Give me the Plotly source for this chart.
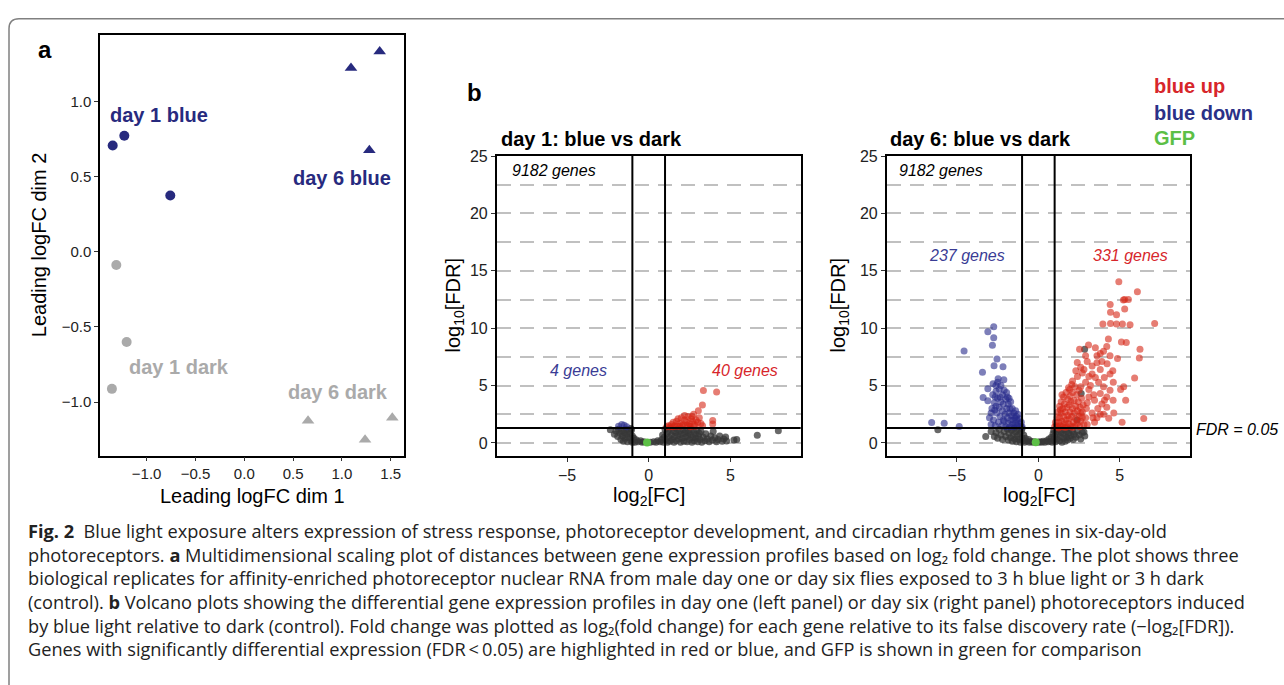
import plotly.graph_objects as go

W, H = 1284, 685

# ---------------- Panel a: MDS data ----------------
mds_d1_blue_x = [-1.348, -1.229, -0.758]
mds_d1_blue_y = [0.707, 0.772, 0.375]
mds_d1_dark_x = [-1.311, -1.205, -1.356]
mds_d1_dark_y = [-0.088, -0.600, -0.912]
mds_d6_blue_x = [1.387, 1.093, 1.281]
mds_d6_blue_y = [1.333, 1.224, 0.676]
mds_d6_dark_x = [0.653, 1.237, 1.516]
mds_d6_dark_y = [-1.125, -1.250, -1.105]
mds_ticks = [-1.0, -0.5, 0.0, 0.5, 1.0, 1.5]
mds_yticks = [-1.0, -0.5, 0.0, 0.5, 1.0]

# ---------------- Panel b: day 1 volcano ----------------
d1_gray_x = [-2.35, -2.1, -2.0, -1.9, -1.85, -1.75, -1.7, -1.65, -1.6, -1.55, -1.5, -1.45, -1.4, -1.35, -1.3,
             -1.25, -1.2, -1.15, -1.1, -1.05, -1.0, -1.0, -1.1,
             -0.9, -0.85, -0.75, -0.65, -0.5, -0.4, -0.3, 0.1, 0.3, 0.45, 0.55, 0.7, 0.8, 0.9, 0.95, 0.85,
             1.0, 1.05, 1.1, 1.15, 1.2, 1.25, 1.3, 1.35, 1.4, 1.45, 1.5, 1.55, 1.6, 1.65, 1.7, 1.75, 1.8,
             1.85, 1.9, 1.95, 2.0, 2.05, 2.1, 2.15, 2.2, 2.25, 2.3, 2.35, 2.4, 2.45, 2.5, 2.55, 2.6, 2.65,
             2.7, 2.75, 2.8, 2.85, 2.9, 2.95, 3.0, 3.05, 3.1, 3.15, 3.2, 3.25,
             3.35, 3.45, 3.5, 3.6, 3.7, 3.8, 3.9, 3.95, 4.05, 4.15, 4.25, 4.35, 4.5, 4.6, 4.71, 4.77,
             5.22, 5.39, 6.65, 7.94]
d1_gray_y = [1.15, 0.75, 1.05, 0.55, 1.2, 0.85, 0.3, 1.05, 0.6, 0.15, 0.9, 0.4, 1.2, 0.7, 0.1,
             1.0, 0.45, 0.8, 0.2, 1.15, 0.6, 0.05, 1.25,
             0.4, 0.05, 0.25, 0.1, 0.2, 0.05, 0.1, 0.05, 0.1, 0.05, 0.2, 0.1, 0.3, 0.05, 0.5, 0.7,
             1.2, 0.3, 0.8, 0.05, 1.0, 0.5, 0.15, 1.25, 0.7, 0.3, 1.05, 0.05, 0.55, 0.9, 0.2, 1.2, 0.65,
             0.35, 1.0, 0.05, 0.75, 0.4, 1.15, 0.15, 0.85, 0.5, 1.05, 0.1, 0.6, 0.9, 0.3, 1.2, 0.7, 0.05,
             0.45, 1.0, 0.2, 0.75, 0.4, 1.1, 0.1, 0.6, 0.85, 0.3, 1.0, 0.05,
             0.5, 0.2, 0.8, 0.35, 0.1, 0.6, 0.25, 1.0, 0.45, 0.1, 0.3, 0.6, 0.15, 0.35, 0.52, 0.17,
             0.25, 0.29, 0.66, 1.06]
d1_up_x = [3.35, 4.16, 3.29, 3.04, 2.75, 3.92, 3.92, 1.1, 1.2, 1.3, 1.4, 1.5, 1.6, 1.7, 1.8, 1.9, 1.9, 2.0,
           2.1, 2.2, 2.2, 2.3, 2.4, 2.45, 2.5, 2.6, 2.65, 2.7, 2.8, 2.9, 3.0, 3.1, 3.2, 3.3, 1.5, 1.75,
           2.05, 2.35, 2.55, 2.85]
d1_up_y = [4.58, 4.44, 3.30, 2.81, 2.5, 1.95, 1.66, 1.4, 1.5, 1.4, 1.6, 1.8, 1.5, 1.9, 2.1, 1.7, 1.45, 2.2,
           1.6, 2.0, 2.4, 1.8, 2.3, 1.5, 1.7, 2.1, 2.3, 1.9, 1.6, 2.0, 1.8, 2.2, 1.7, 1.5, 1.4, 1.45,
           1.5, 1.55, 1.4, 1.45]
d1_down_x = [-1.85, -1.65, -1.5, -1.35]
d1_down_y = [1.45, 1.6, 1.55, 1.42]
d1_gfp_x = [-0.1]
d1_gfp_y = [0.03]

# ---------------- Panel b: day 6 volcano ----------------
d6_gray_x = [-6.17, -3.23, -2.7, -2.9, -2.6, -2.5, -2.4, -2.3, -2.2, -2.1, -2.0, -1.9, -1.85, -1.8, -1.7,
             -1.65, -1.6, -1.55, -1.5, -1.45, -1.4, -1.35, -1.3, -1.25, -1.2, -1.15, -1.1, -1.05, -1.0, -1.0,
             -0.95, -0.9, -0.85, -0.8, -0.7, -0.6, -0.55, -0.45, -0.35, -0.25, 0.0, 0.1, 0.2, 0.3, 0.4,
             0.5, 0.6, 0.65, 0.75, 0.8, 0.85, 0.9, 0.95, 0.95,
             1.0, 1.05, 1.1, 1.15, 1.2, 1.25, 1.3, 1.35, 1.4, 1.45, 1.5, 1.55, 1.6, 1.65, 1.7, 1.75, 1.8,
             1.85, 1.9, 1.95, 2.0, 2.1, 2.15, 2.2, 2.3, 2.4, 2.5, 2.6, 2.7, 2.8, 2.85,
             2.63, 2.84, 2.38]
d6_gray_y = [1.14, 0.57, 0.55, 1.0, 0.9, 0.4, 1.2, 0.7, 0.3, 1.0, 0.55, 1.2, 0.25, 0.85, 0.45,
             1.1, 0.15, 0.7, 1.25, 0.35, 0.95, 0.1, 0.6, 1.15, 0.3, 0.8, 0.05, 1.0, 0.45, 1.25,
             0.2, 0.7, 0.05, 0.4, 0.15, 0.3, 0.05, 0.15, 0.05, 0.1, 0.05, 0.1, 0.05, 0.15, 0.05,
             0.2, 0.1, 0.35, 0.15, 0.5, 0.05, 0.8, 0.3, 1.1,
             0.6, 0.1, 1.0, 0.35, 0.75, 1.2, 0.2, 0.55, 0.9, 0.05, 1.15, 0.4, 0.75, 0.15, 1.0, 0.5, 0.25,
             0.85, 1.2, 0.4, 0.65, 1.0, 0.3, 0.75, 0.5, 1.05, 0.7, 0.35, 0.9, 0.95, 0.6,
             4.3, 8.17, 2.0]
d6_down_x = [-2.74, -3.10, -2.74, -2.82, -4.56, -2.54, -2.72, -2.17, -3.43, -2.47, -2.12, -2.78, -3.10, -2.6,
             -3.39, -3.1, -2.68, -6.55, -5.78, -4.86,
             -3.0, -2.9, -2.85, -2.8, -2.75, -2.7, -2.65, -2.6, -2.55, -2.5, -2.5, -2.45, -2.4, -2.4, -2.35,
             -2.3, -2.3, -2.25, -2.2, -2.2, -2.15, -2.1, -2.1, -2.05, -2.0, -2.0, -1.95, -1.9, -1.9, -1.85,
             -1.85, -1.8, -1.75, -1.75, -1.7, -1.7, -1.65, -1.6, -1.6, -1.55, -1.5, -1.5, -1.45, -1.4, -1.4,
             -1.35, -1.3, -1.3, -1.25, -1.2, -1.15, -1.1, -1.05, -1.0, -2.65, -2.9, -2.35, -1.95, -2.6,
             -2.15, -1.8]
d6_down_y = [10.12, 9.69, 9.17, 8.51, 8.02, 7.31, 6.73, 6.65, 6.16, 5.59, 5.5, 5.16, 4.73, 5.0,
             3.96, 3.67, 2.87, 1.78, 1.72, 1.43,
             2.2, 1.6, 3.0, 4.2, 2.0, 3.5, 1.5, 4.5, 2.6, 3.9, 5.3, 1.8, 3.1, 4.7, 2.3,
             5.0, 3.6, 1.5, 2.8, 4.2, 3.4, 1.9, 4.6, 2.5, 3.8, 1.4, 3.0, 2.2, 4.0, 1.7,
             3.4, 2.6, 1.4, 3.0, 2.0, 3.6, 2.4, 1.6, 3.0, 2.0, 2.6, 1.4, 2.2, 1.7, 2.8,
             2.3, 1.5, 2.0, 2.5, 1.7, 2.1, 1.45, 1.8, 1.4, 4.0, 2.6, 4.0, 4.4, 3.2,
             2.0, 3.9]
d6_up_x = [4.94, 6.08, 5.22, 5.3, 5.53, 4.41, 5.30, 4.43, 4.80, 3.96, 4.43, 4.8, 5.16, 5.63, 7.14, 4.30,
           5.10, 5.4, 3.08, 2.53, 6.24, 4.2, 3.80, 6.2, 4.86, 2.39, 3.0, 3.6, 3.9, 4.22, 2.6, 3.3, 4.57,
           2.7, 3.1, 3.5, 4.05, 5.91, 2.1, 2.9, 3.7, 1.92, 3.1, 5.24, 5.05, 4.4, 3.8, 4.59, 5.36, 4.06,
           3.45, 3.65, 2.95, 4.32, 5.14, 6.47, 3.0, 3.8, 3.35, 4.63, 3.6, 3.45, 4.0,
           3.3, 3.8, 4.4, 3.2, 4.0, 2.6, 3.4, 4.2, 3.0, 3.9, 2.7, 4.2, 3.3, 2.9, 3.1, 2.4, 2.8, 4.6,
           2.3, 3.6, 4.0, 3.5, 2.9, 4.4,
           1.0, 1.05, 1.1, 1.15, 1.2, 1.2, 1.25, 1.3, 1.3, 1.35, 1.4, 1.4, 1.45, 1.5, 1.5, 1.55, 1.55,
           1.6, 1.6, 1.65, 1.7, 1.7, 1.75, 1.75, 1.8, 1.8, 1.85, 1.85, 1.9, 1.9, 1.95, 1.95, 2.0, 2.0,
           2.05, 2.05, 2.1, 2.1, 2.15, 2.2, 2.2, 2.25, 2.25, 2.3, 2.3, 2.35, 2.4, 2.4, 2.45, 2.5, 2.5,
           2.55, 2.6, 2.6, 2.65, 2.7, 2.75, 2.8, 1.25, 1.65, 2.1, 2.55, 1.35, 1.45]
d6_up_y = [14.04, 13.18, 12.47, 12.5, 12.5, 12.07, 11.67, 11.4, 11.18, 10.37, 10.4, 10.37, 10.37, 10.3, 10.4,
           9.06, 8.80, 8.75, 8.54, 8.17, 8.17, 8.4, 7.80, 7.4, 7.36, 7.02, 7.1, 7.0, 7.1, 6.9, 6.6, 6.7,
           6.30, 6.1, 5.8, 5.7, 5.7, 5.67, 5.4, 5.3, 5.3, 4.65, 4.65, 4.9, 4.65, 4.6, 4.3, 3.73, 3.72,
           3.72, 3.72, 3.0, 3.0, 2.15, 1.81, 2.12, 1.6, 2.5, 2.2, 2.6, 2.2, 1.8, 2.5,
           6.0, 6.4, 6.0, 5.0, 4.9, 4.9, 4.2, 4.0, 3.5, 3.4, 2.7, 3.1, 2.6, 2.2, 4.0, 5.8, 6.4, 5.3,
           6.3, 7.6, 8.0, 8.3, 7.6, 7.6,
           1.4, 1.8, 1.5, 2.2, 1.4, 2.7, 1.8, 3.2, 2.2, 1.5, 2.6, 3.6, 1.9, 3.0, 1.4, 2.3, 4.0,
           3.4, 1.7, 2.7, 4.4, 2.0, 3.1, 1.4, 3.8, 2.4, 4.8, 1.7, 3.3, 2.1, 4.1, 2.7, 1.5, 3.6,
           5.1, 2.3, 4.4, 3.0, 1.8, 3.7, 2.6, 4.9, 1.5, 3.2, 2.1, 4.2, 2.8, 1.7, 3.6, 2.3, 4.6,
           3.1, 1.9, 2.6, 3.9, 2.2, 3.3, 1.6, 1.3, 1.35, 1.35, 1.4, 2.9, 4.2]
d6_gfp_x = [-0.16]
d6_gfp_y = [0.06]

volc_xticks = [-5, 0, 5]
volc_yticks = [0, 5, 10, 15, 20, 25]
fc_cut = 1.0
fdr_line = 1.30103

caption_lines = [
    "<b>Fig. 2</b>  Blue light exposure alters expression of stress response, photoreceptor development, and circadian rhythm genes in six-day-old",
    "photoreceptors. <b>a</b> Multidimensional scaling plot of distances between gene expression profiles based on log\u2082 fold change. The plot shows three",
    "biological replicates for affinity-enriched photoreceptor nuclear RNA from male day one or day six flies exposed to 3 h blue light or 3 h dark",
    "(control). <b>b</b> Volcano plots showing the differential gene expression profiles in day one (left panel) or day six (right panel) photoreceptors induced",
    "by blue light relative to dark (control). Fold change was plotted as log\u2082(fold change) for each gene relative to its false discovery rate (\u2212log\u2082[FDR]).",
    "Genes with significantly differential expression (FDR\u2009<\u20090.05) are highlighted in red or blue, and GFP is shown in green for comparison",
]

# ---------------- styles ----------------
NAVY = "#272a7e"
LGRAY = "#aaaaaa"
RED = "rgb(214,38,22)"
BLUE = "rgb(38,42,138)"
DGRAY = "rgb(55,55,55)"
GREEN = "#5cbf46"
FONT = "Liberation Sans"


def px(x):
    return x / W


def py(y):
    return 1 - y / H


def fmt(v):
    s = f"{v:.1f}"
    return s.replace("-", "\u2212")


fig = go.Figure()

# panel a
fig.add_trace(go.Scatter(x=mds_d1_blue_x, y=mds_d1_blue_y, mode="markers",
                         marker=dict(symbol="circle", size=10, color=NAVY), xaxis="x", yaxis="y"))
fig.add_trace(go.Scatter(x=mds_d1_dark_x, y=mds_d1_dark_y, mode="markers",
                         marker=dict(symbol="circle", size=10, color=LGRAY), xaxis="x", yaxis="y"))
fig.add_trace(go.Scatter(x=mds_d6_blue_x, y=mds_d6_blue_y, mode="markers",
                         marker=dict(symbol="triangle-up", size=11, color=NAVY), xaxis="x", yaxis="y"))
fig.add_trace(go.Scatter(x=mds_d6_dark_x, y=mds_d6_dark_y, mode="markers",
                         marker=dict(symbol="triangle-up", size=11, color=LGRAY), xaxis="x", yaxis="y"))


def volc(xs, ys, color, op, xa, ya, size=7):
    fig.add_trace(go.Scatter(x=xs, y=ys, mode="markers",
                             marker=dict(size=size, color=color, opacity=op, line=dict(width=0)),
                             xaxis=xa, yaxis=ya))


volc(d1_gray_x, d1_gray_y, DGRAY, 0.75, "x2", "y2")
volc(d1_down_x, d1_down_y, BLUE, 0.6, "x2", "y2")
volc(d1_up_x, d1_up_y, RED, 0.6, "x2", "y2")
volc(d1_gfp_x, d1_gfp_y, GREEN, 1.0, "x2", "y2", 8)

volc(d6_gray_x, d6_gray_y, DGRAY, 0.75, "x3", "y3")
volc(d6_down_x, d6_down_y, BLUE, 0.6, "x3", "y3")
volc(d6_up_x, d6_up_y, RED, 0.6, "x3", "y3")
volc(d6_gfp_x, d6_gfp_y, GREEN, 1.0, "x3", "y3", 8)

axis_common = dict(showline=True, mirror=True, linecolor="black", linewidth=1.5,
                   ticks="outside", ticklen=4, tickwidth=1, tickcolor="#333",
                   zeroline=False, showgrid=False,
                   tickfont=dict(family=FONT, size=15, color="#222"))

grid_dash = "14px,9px"
vtick = dict(family=FONT, size=16, color="#222")

fig.update_layout(
    width=W, height=H, margin=dict(l=0, r=0, t=0, b=0),
    paper_bgcolor="white", plot_bgcolor="white", showlegend=False,
    xaxis=dict(axis_common, domain=[px(100), px(404)], range=[-1.478, 1.636], anchor="y",
               tickvals=mds_ticks, ticktext=[fmt(v) for v in mds_ticks]),
    yaxis=dict(axis_common, domain=[py(453), py(27)], range=[-1.357, 1.445], anchor="x",
               tickvals=mds_yticks, ticktext=[fmt(v) for v in mds_yticks]),
    xaxis2=dict(axis_common, domain=[px(496.7), px(800.7)], range=[-9.31, 9.31], anchor="y2",
                tickvals=volc_xticks, ticktext=[str(v).replace("-", "\u2212") for v in volc_xticks],
                tickfont=vtick),
    yaxis2=dict(axis_common, domain=[py(453.3), py(149.3)], range=[-1.14, 25.05], anchor="x2",
                tickvals=volc_yticks, ticktext=[str(v) for v in volc_yticks], tickfont=vtick,
                showgrid=True, gridcolor="#c0c0c0", gridwidth=1.8, griddash=grid_dash,
                minor=dict(dtick=2.5, tick0=0, showgrid=True, gridcolor="#c0c0c0", gridwidth=1.8,
                           griddash=grid_dash, ticklen=0)),
    xaxis3=dict(axis_common, domain=[px(886.7), px(1190)], range=[-9.31, 9.31], anchor="y3",
                tickvals=volc_xticks, ticktext=[str(v).replace("-", "\u2212") for v in volc_xticks],
                tickfont=vtick),
    yaxis3=dict(axis_common, domain=[py(453.3), py(149.3)], range=[-1.14, 25.05], anchor="x3",
                tickvals=volc_yticks, ticktext=[str(v) for v in volc_yticks], tickfont=vtick,
                showgrid=True, gridcolor="#c0c0c0", gridwidth=1.8, griddash=grid_dash,
                minor=dict(dtick=2.5, tick0=0, showgrid=True, gridcolor="#c0c0c0", gridwidth=1.8,
                           griddash=grid_dash, ticklen=0)),
)

shapes = []
for xa, ya in (("x2", "y2"), ("x3", "y3")):
    for xv in (-fc_cut, fc_cut):
        shapes.append(dict(type="line", xref=xa, yref=ya + " domain", x0=xv, x1=xv, y0=0, y1=1,
                           line=dict(color="black", width=2), layer="above"))
    shapes.append(dict(type="line", xref=xa + " domain", yref=ya, x0=0, x1=1, y0=fdr_line, y1=fdr_line,
                       line=dict(color="black", width=2), layer="above"))

# outer rounded border
r = 10
bx, by = 9, 11
path = (f"M {px(bx)},{py(H + 20)} L {px(bx)},{py(by + r)} "
        f"Q {px(bx)},{py(by)} {px(bx + r)},{py(by)} L {px(W + 20)},{py(by)}")
shapes.append(dict(type="path", xref="paper", yref="paper", path=path,
                   line=dict(color="#808080", width=1.5)))
fig.update_layout(shapes=shapes)

ann = []


def add_text(text, x, y, size, color="black", bold=False, italic=False, xanchor="center",
             yanchor="middle", angle=0, family=FONT, align="center"):
    if bold:
        text = f"<b>{text}</b>"
    if italic:
        text = f"<i>{text}</i>"
    ann.append(dict(text=text, x=px(x), y=py(y), xref="paper", yref="paper", showarrow=False,
                    xanchor=xanchor, yanchor=yanchor, textangle=angle, align=align,
                    font=dict(family=family, size=size, color=color)))


# panel letters
add_text("a", 45, 42, 24, bold=True)
add_text("b", 474, 86, 24, bold=True)

# panel a texts
add_text("day 1 blue", 108, 108, 20, color=NAVY, bold=True, xanchor="left")
add_text("day 6 blue", 393, 172, 20, color=NAVY, bold=True, xanchor="right")
add_text("day 1 dark", 127, 363, 20, color=LGRAY, bold=True, xanchor="left")
add_text("day 6 dark", 390, 389, 20, color=LGRAY, bold=True, xanchor="right")
add_text("Leading logFC dim 1", 252, 494, 20)
add_text("Leading logFC dim 2", 39, 240, 20, angle=-90)

# volcano titles and axis titles
add_text("day 1: blue vs dark", 499, 133, 20, bold=True, xanchor="left")
add_text("day 6: blue vs dark", 888, 133, 20, bold=True, xanchor="left")
add_text("log<sub>2</sub>[FC]", 648.7, 494, 20)
add_text("log<sub>2</sub>[FC]", 1038.7, 494, 20)
add_text("log<sub>10</sub>[FDR]", 454, 301, 20, angle=-90)
add_text("log<sub>10</sub>[FDR]", 839, 301, 20, angle=-90)

# legend
add_text("blue up", 1152, 79, 20, color="#d7262b", bold=True, xanchor="left")
add_text("blue down", 1152, 106, 20, color="#2b3087", bold=True, xanchor="left")
add_text("GFP", 1152, 132, 20, color=GREEN, bold=True, xanchor="left")

# gene counts
add_text("9182 genes", 510, 164, 16, italic=True, xanchor="left")
add_text("9182 genes", 897, 164, 16, italic=True, xanchor="left")
add_text("4 genes", 578, 367, 16, color="#3a3c95", italic=True)
add_text("40 genes", 745, 367, 16, color="#d7262b", italic=True)
add_text("237 genes", 967, 250, 16, color="#3a3c95", italic=True)
add_text("331 genes", 1130, 250, 16, color="#d7262b", italic=True)
add_text("FDR = 0.05", 1194, 426, 16, italic=True, xanchor="left")

# caption as one multi-line block
cap_size = 18.2
add_text("<br>".join(caption_lines), 26, 530 + 2.5 * 1.3 * cap_size, cap_size, color="#222",
         xanchor="left", family="Open Sans", align="left")

fig.update_layout(annotations=ann)
fig.write_html(
    "out.html",
    config={"displayModeBar": False},
    post_script=("document.documentElement.style.margin='0px';"
                 "document.body.style.margin='0px';document.body.style.overflow='hidden';"
                 "var d=document.getElementById('{plot_id}');"
                 "d.style.position='absolute';d.style.top='0px';d.style.left='0px';"),
)
